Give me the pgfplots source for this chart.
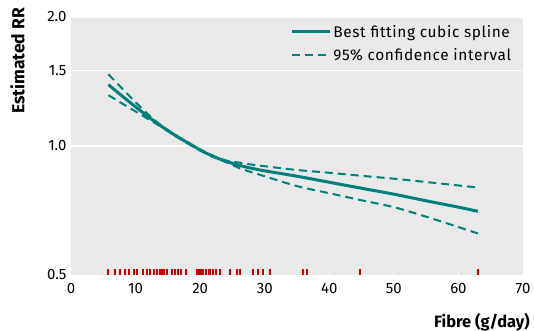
\documentclass[border=0pt]{standalone}
\usepackage{pgfplots}
\pgfplotsset{compat=1.18}
\usepackage{fontspec}
\setmainfont{Fira Sans}
\definecolor{teal1}{RGB}{0,128,122}
\definecolor{bggray}{RGB}{233,233,233}
\definecolor{rugred}{RGB}{200,0,0}
\newcommand{\fs}{\fontsize{15}{18}\selectfont}
\newcommand{\lfs}{\fontsize{15.5}{18}\selectfont\addfontfeatures{LetterSpace=4}}
\pgfplotsset{mylegend/.style={legend image code/.code={\draw[##1] (0bp,0bp) -- (38bp,0bp);}}}
\begin{document}
\begin{tikzpicture}
\begin{axis}[name=ax,
 width=452bp, height=258bp, scale only axis,
 xmin=0, xmax=70, ymode=log, ymin=0.5, ymax=2,
 axis background/.style={fill=bggray},
 axis line style={draw=none},
 /pgf/number format/assume math mode=true,
 tick label style={font=\fs},
 ytick={1,1.5,2}, yticklabels={1.0,1.5,2.0},
 extra y ticks={0.5}, extra y tick labels={0.5}, extra y tick style={grid=none},
 ymajorgrids, grid style={white, line width=1.5bp},
 ytick style={draw=none},
 xtick={0,10,...,70}, xtick pos=left,
 xtick style={white, line width=1bp}, major tick length=4bp, tick align=inside,
 xticklabel style={yshift=-5bp},
 yticklabel style={xshift=-1bp},
 xlabel={\bfseries Fibre (g/day)}, ylabel={\bfseries Estimated RR},
 xlabel style={at={(axis description cs:1.0155,-0.147)}, anchor=north east, inner sep=0pt, font=\fontsize{16.5}{19}\selectfont},
 ylabel style={at={(axis description cs:-0.1018,1.035)}, anchor=south east, inner sep=0pt, font=\fontsize{17.5}{20}\selectfont},
 legend style={at={(axis description cs:0.985,0.985)}, anchor=north east, draw=none, fill=none, row sep=6bp, font=\lfs},
 legend cell align=left,
]
\addplot[teal1, line width=3bp, smooth, mylegend] coordinates {
(5.8,1.390) (7,1.343) (8,1.305) (10,1.234) (12,1.169) (14,1.112) (16,1.062) (18,1.019) (20,0.979) (22,0.946) (24,0.921) (26,0.902) (28,0.887) (30,0.875) (35,0.850) (40,0.823) (45,0.797) (50,0.772) (55,0.745) (60,0.720) (63,0.704)};
\addlegendentry{Best fitting cubic spline}
\addplot[teal1, line width=2bp, dash pattern=on 8bp off 5bp, smooth, mylegend] coordinates {
(5.8,1.470) (7,1.408) (8,1.358) (10,1.265) (12,1.183) (14,1.116) (16,1.065) (18,1.022) (20,0.982) (22,0.949) (24,0.925) (26,0.915) (28,0.905) (30,0.897) (35,0.879) (40,0.866) (45,0.852) (50,0.839) (55,0.824) (60,0.809) (63,0.800)};
\addlegendentry{95\% confidence interval}
\addplot[teal1, line width=2bp, dash pattern=on 8bp off 5bp, smooth, forget plot] coordinates {
(5.8,1.314) (7,1.281) (8,1.254) (10,1.204) (12,1.155) (14,1.108) (16,1.059) (18,1.016) (20,0.976) (22,0.943) (24,0.917) (26,0.889) (28,0.868) (30,0.850) (35,0.806) (40,0.776) (45,0.747) (50,0.720) (55,0.684) (60,0.647) (63,0.625)};
\addplot[rugred, only marks, mark=|, mark size=3bp, mark options={line width=2bp, yshift=3bp}, forget plot] coordinates {
(5.8,0.5) (6.8,0.5) (7.6,0.5) (8.4,0.5) (9.0,0.5) (9.7,0.5) (10.2,0.5) (11.2,0.5) (11.7,0.5) (12.2,0.5) (12.8,0.5) (13.3,0.5) (13.8,0.5) (14.1,0.5) (14.4,0.5) (14.8,0.5) (15.6,0.5) (16.1,0.5) (16.6,0.5) (17.1,0.5) (17.8,0.5) (19.5,0.5) (19.8,0.5) (20.1,0.5) (20.5,0.5) (20.9,0.5) (21.3,0.5) (21.6,0.5) (22.0,0.5) (22.4,0.5) (23.1,0.5) (24.6,0.5) (25.7,0.5) (26.2,0.5) (28.2,0.5) (29.0,0.5) (29.8,0.5) (30.8,0.5) (36.0,0.5) (36.6,0.5) (44.8,0.5) (63.1,0.5)};
\end{axis}
\pgfresetboundingbox
\path ([xshift=-71bp,yshift=-56bp]ax.south west) rectangle ++(534bp,331bp);
\end{tikzpicture}
\end{document}
